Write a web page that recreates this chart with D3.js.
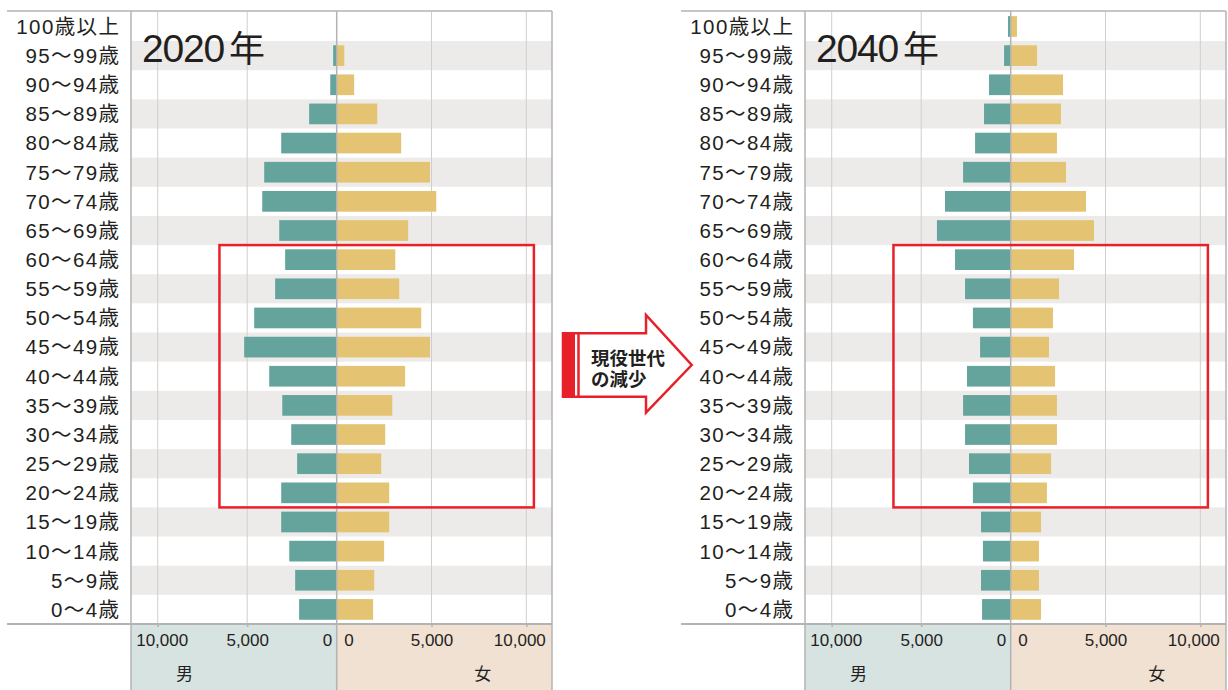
<!DOCTYPE html>
<html>
<head>
<meta charset="utf-8">
<script src="https://cdn.jsdelivr.net/npm/d3@7"></script>
<style>
  body { margin: 0; background: #fff; }
  svg { display: block; }
  text { font-family: "Liberation Sans", "Noto Sans CJK JP", sans-serif; fill: #231f20; }
</style>
</head>
<body>
<svg id="chart"></svg>
<script>
const width = 1228;
const height = 690;

// age groups, top to bottom
const ages = [
  "100歳以上", "95〜99歳", "90〜94歳", "85〜89歳", "80〜84歳", "75〜79歳",
  "70〜74歳", "65〜69歳", "60〜64歳", "55〜59歳", "50〜54歳", "45〜49歳",
  "40〜44歳", "35〜39歳", "30〜34歳", "25〜29歳", "20〜24歳", "15〜19歳",
  "10〜14歳", "5〜9歳", "0〜4歳"
];

const male2020 = [5, 200, 360, 1540, 3100, 4050, 4160, 3210, 2880, 3440, 4610, 5170, 3770, 3040, 2540, 2210, 3100, 3100, 2650, 2320, 2100];
const female2020 = [20, 400, 920, 2140, 3400, 4920, 5250, 3770, 3090, 3300, 4460, 4920, 3610, 2930, 2560, 2350, 2770, 2770, 2500, 1980, 1920];
const male2040 = [150, 370, 1210, 1490, 1990, 2660, 3670, 4120, 3110, 2550, 2110, 1710, 2440, 2660, 2550, 2330, 2110, 1660, 1550, 1660, 1600];
const female2040 = [330, 1390, 2760, 2650, 2440, 2920, 3970, 4390, 3340, 2550, 2230, 2020, 2340, 2440, 2440, 2130, 1910, 1600, 1490, 1490, 1600];

const maleTicks = [10000, 5000, 0];
const femaleTicks = [0, 5000, 10000];

// working-age band highlighted by the red box
const workingAges = ["60〜64歳", "20〜24歳"];
const boxExtent = { male: 6550, female: 10400 };

const colors = {
  male: "#64a49d",
  female: "#e4c472",
  stripe: "#edebe9",
  maleBand: "#d6e3e1",
  femaleBand: "#f1e1d3",
  grid: "#cfcfcf",
  axis: "#b3b3b3",
  red: "#e8202a"
};

// panel layout (local coordinates)
const panel = { left: 7, plotLeft: 131, center: 336.7, plotRight: 552, top: 11.9, bottom: 624 };
const panelOffset = 674;

const svg = d3.select("#chart").attr("width", width).attr("height", height);

const y = d3.scaleBand().domain(ages).range([panel.top, panel.bottom]);
const barPad = y.bandwidth() * 0.145;

const xMale = d3.scaleLinear().domain([0, 10000]).range([panel.center, 157.7]);
const xFemale = d3.scaleLinear().domain([0, 10000]).range([panel.center, 526.3]);

function drawPanel(g, year, male, female) {
  // stripes
  g.selectAll("rect.stripe")
    .data(ages.filter((d, i) => i % 2 === 1))
    .enter()
    .append("rect")
    .attr("class", "stripe")
    .attr("x", panel.plotLeft)
    .attr("y", (d) => y(d))
    .attr("width", panel.plotRight - panel.plotLeft)
    .attr("height", y.bandwidth())
    .attr("fill", colors.stripe);

  // bottom bands
  g.append("rect")
    .attr("x", panel.plotLeft)
    .attr("y", panel.bottom)
    .attr("width", panel.center - panel.plotLeft)
    .attr("height", height - panel.bottom)
    .attr("fill", colors.maleBand);
  g.append("rect")
    .attr("x", panel.center)
    .attr("y", panel.bottom)
    .attr("width", panel.plotRight - panel.center)
    .attr("height", height - panel.bottom)
    .attr("fill", colors.femaleBand);

  // gridlines
  const grid = g.append("g");
  grid.selectAll("line.gm")
    .data(maleTicks.filter((d) => d > 0))
    .enter()
    .append("line")
    .attr("x1", (d) => xMale(d))
    .attr("x2", (d) => xMale(d))
    .attr("y1", panel.top)
    .attr("y2", panel.bottom)
    .attr("stroke", colors.grid)
    .attr("stroke-width", 1);
  grid.selectAll("line.gf")
    .data(femaleTicks.filter((d) => d > 0))
    .enter()
    .append("line")
    .attr("x1", (d) => xFemale(d))
    .attr("x2", (d) => xFemale(d))
    .attr("y1", panel.top)
    .attr("y2", panel.bottom)
    .attr("stroke", colors.grid)
    .attr("stroke-width", 1);

  // bars
  g.selectAll("rect.male")
    .data(ages)
    .enter()
    .append("rect")
    .attr("x", (d, i) => xMale(male[i]))
    .attr("y", (d) => y(d) + barPad)
    .attr("width", (d, i) => panel.center - xMale(male[i]))
    .attr("height", y.bandwidth() - 2 * barPad)
    .attr("fill", colors.male);
  g.selectAll("rect.female")
    .data(ages)
    .enter()
    .append("rect")
    .attr("x", panel.center)
    .attr("y", (d) => y(d) + barPad)
    .attr("width", (d, i) => xFemale(female[i]) - panel.center)
    .attr("height", y.bandwidth() - 2 * barPad)
    .attr("fill", colors.female);

  // frame lines
  g.append("line")
    .attr("x1", panel.left).attr("x2", panel.plotRight)
    .attr("y1", 11).attr("y2", 11)
    .attr("stroke", colors.axis).attr("stroke-width", 1.5);
  [panel.plotLeft, panel.center, panel.plotRight].forEach((x) => {
    g.append("line")
      .attr("x1", x).attr("x2", x)
      .attr("y1", 11).attr("y2", height)
      .attr("stroke", colors.axis).attr("stroke-width", 1.5);
  });
  g.append("line")
    .attr("x1", panel.left).attr("x2", panel.plotRight)
    .attr("y1", panel.bottom).attr("y2", panel.bottom)
    .attr("stroke", colors.axis).attr("stroke-width", 2);

  // axes
  const maleAxis = g.append("g")
    .attr("transform", `translate(0,${panel.bottom})`)
    .call(d3.axisBottom(xMale).tickValues(maleTicks).tickSize(3).tickFormat(d3.format(",")));
  const femaleAxis = g.append("g")
    .attr("transform", `translate(0,${panel.bottom})`)
    .call(d3.axisBottom(xFemale).tickValues(femaleTicks).tickSize(3).tickFormat(d3.format(",")));
  [maleAxis, femaleAxis].forEach((a) => {
    a.select(".domain").remove();
    a.selectAll(".tick line").attr("stroke", colors.axis).attr("stroke-width", 1.5);
    a.selectAll(".tick text")
      .attr("y", 10)
      .attr("font-size", 17)
      .attr("font-family", "Liberation Sans, sans-serif")
      .attr("fill", "#231f20");
  });
  maleAxis.selectAll(".tick line").filter((d) => d === 0).remove();
  femaleAxis.selectAll(".tick line").filter((d) => d === 0).remove();
  maleAxis.selectAll(".tick text").filter((d) => d === 0).attr("text-anchor", "end").attr("x", -5);
  maleAxis.selectAll(".tick text").filter((d) => d === 10000).attr("x", 4);
  femaleAxis.selectAll(".tick text").filter((d) => d === 0).attr("text-anchor", "start").attr("x", 7);
  femaleAxis.selectAll(".tick text").filter((d) => d === 10000).attr("x", -7);

  g.append("text")
    .attr("x", xMale(8500))
    .attr("y", 680)
    .attr("text-anchor", "middle")
    .attr("font-size", 17)
    .attr("font-family", "Noto Sans CJK JP")
    .text("男");
  g.append("text")
    .attr("x", xFemale(7700))
    .attr("y", 680)
    .attr("text-anchor", "middle")
    .attr("font-size", 17)
    .attr("font-family", "Noto Sans CJK JP")
    .text("女");

  // age labels
  const ls = 1.4;
  g.selectAll("text.age")
    .data(ages)
    .enter()
    .append("text")
    .attr("x", 119 + ls)
    .attr("y", (d) => y(d) + y.bandwidth() / 2)
    .attr("dy", "0.36em")
    .attr("text-anchor", "end")
    .attr("font-size", 20.5)
    .attr("letter-spacing", ls)
    .text((d) => d);

  // year title
  const title = g.append("text")
    .attr("x", 142)
    .attr("y", 61.5)
    .attr("font-size", 39)
    .attr("letter-spacing", -1.2);
  title.append("tspan").text(year);
  title.append("tspan").attr("dx", 5).attr("font-size", 36).text("年");

  // working-age box
  g.append("rect")
    .attr("x", xMale(boxExtent.male))
    .attr("y", y(workingAges[0]))
    .attr("width", xFemale(boxExtent.female) - xMale(boxExtent.male))
    .attr("height", y(workingAges[1]) + y.bandwidth() - y(workingAges[0]))
    .attr("fill", "none")
    .attr("stroke", colors.red)
    .attr("stroke-width", 2.5);
}

drawPanel(svg.append("g"), 2020, male2020, female2020);
drawPanel(svg.append("g").attr("transform", `translate(${panelOffset},0)`), 2040, male2040, female2040);

// arrow between panels
const arrow = { x0: 563, x1: 646, tip: 691.7, top: 333.3, bottom: 396.7, headTop: 315, headBottom: 412.7 };
const arrowG = svg.append("g");
arrowG.append("path")
  .attr("d", `M${arrow.x0},${arrow.top}H${arrow.x1}V${arrow.headTop}L${arrow.tip},${(arrow.top + arrow.bottom) / 2}L${arrow.x1},${arrow.headBottom}V${arrow.bottom}H${arrow.x0}Z`)
  .attr("fill", "#fff")
  .attr("stroke", colors.red)
  .attr("stroke-width", 2.5);
arrowG.append("rect")
  .attr("x", arrow.x0)
  .attr("y", arrow.top)
  .attr("width", 12)
  .attr("height", arrow.bottom - arrow.top)
  .attr("fill", colors.red);
arrowG.append("line")
  .attr("x1", arrow.x0 + 15.5).attr("x2", arrow.x0 + 15.5)
  .attr("y1", arrow.top).attr("y2", arrow.bottom)
  .attr("stroke", colors.red).attr("stroke-width", 2.5);
arrowG.selectAll("text")
  .data(["現役世代", "の減少"])
  .enter()
  .append("text")
  .attr("x", 591)
  .attr("y", (d, i) => 364.5 + i * 21)
  .attr("font-size", 18.5)
  .attr("font-weight", 700)
  .attr("font-family", "Noto Sans CJK JP")
  .text((d) => d);
</script>
</body>
</html>
